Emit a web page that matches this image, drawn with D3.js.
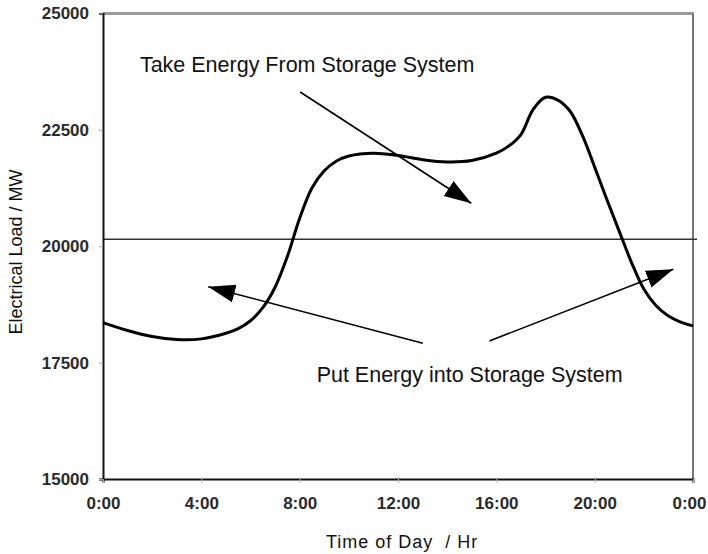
<!DOCTYPE html>
<html>
<head>
<meta charset="utf-8">
<script src="https://cdn.jsdelivr.net/npm/d3@7"></script>
<style>
  html, body { margin: 0; padding: 0; background: #fff; }
  svg { display: block; font-family: "Liberation Sans", Arial, sans-serif; }
</style>
</head>
<body>
<svg id="chart" width="708" height="554"></svg>
<script>
// ---- Data ----
const hours = [0, 1, 2, 3, 4, 5, 5.5, 6, 6.5, 7, 7.5, 8, 8.5, 9, 9.5, 10, 11, 12, 13, 14, 15, 16, 16.5, 17, 17.5, 18, 18.5, 19, 19.5, 20, 20.5, 21, 21.5, 22, 22.5, 23, 23.5, 24];
const load  = [18360, 18190, 18060, 17995, 18010, 18130, 18230, 18400, 18680, 19120, 19780, 20600, 21250, 21620, 21830, 21940, 22000, 21950, 21860, 21810, 21840, 22000, 22150, 22400, 22940, 23200, 23140, 22900, 22380, 21700, 21000, 20320, 19650, 19080, 18720, 18500, 18370, 18290];
const meanLoad = 20150;
const xTicks = [0, 4, 8, 12, 16, 20, 24];
const xTickLabels = ["0:00", "4:00", "8:00", "12:00", "16:00", "20:00", "0:00"];
const yTicks = [15000, 17500, 20000, 22500, 25000];
// annotation arrows in data units: [hour, load]
const arrowFrom = [[8.02, 23314], [13.01, 17916], [15.72, 17965]];
const arrowTo   = [[14.98, 20924], [4.28, 19132], [23.2, 19505]];
const notes = ["Take Energy From Storage System", "Put Energy into Storage System"];
const noteAt = [[1.5, 23740], [8.69, 17090]];

// ---- Layout ----
const svg = d3.select("#chart");
const x = d3.scaleLinear().domain([0, 24]).range([103, 693]);
const y = d3.scaleLinear().domain([15000, 25000]).range([479, 13.5]);

// frame top/right (grey)
svg.append("line").attr("x1", x(0)).attr("x2", x(24) + 1).attr("y1", y(25000)).attr("y2", y(25000))
  .attr("stroke", "#9a9a9a").attr("stroke-width", 3);
svg.append("line").attr("x1", x(24)).attr("x2", x(24)).attr("y1", y(25000)).attr("y2", y(15000))
  .attr("stroke", "#777").attr("stroke-width", 2);

// mean line
svg.append("line").attr("x1", x(0)).attr("x2", x(24) + 4).attr("y1", y(meanLoad)).attr("y2", y(meanLoad))
  .attr("stroke", "#333").attr("stroke-width", 1.5);

// axes
const yAxis = d3.axisLeft(y).tickValues(yTicks).tickSize(4).tickPadding(10).tickFormat(d3.format("d"));
const gy = svg.append("g").attr("transform", `translate(${x(0)},0)`).call(yAxis);
gy.select(".domain").attr("stroke", "#111").attr("stroke-width", 2);
gy.selectAll(".tick line").attr("stroke", "#aaa");
gy.selectAll(".tick text").attr("font-size", 17).attr("font-weight", "bold").attr("fill", "#2a2a2a")
  .attr("font-family", "Liberation Sans, Arial, sans-serif");

const xAxis = d3.axisBottom(x).tickValues(xTicks).tickSize(4).tickPadding(14)
  .tickFormat((d, i) => xTickLabels[i]);
const gx = svg.append("g").attr("transform", `translate(0,${y(15000)})`).call(xAxis);
gx.select(".domain").attr("stroke", "#111").attr("stroke-width", 2);
gx.selectAll(".tick line").attr("stroke", "#bbb");
gx.selectAll(".tick text").attr("font-size", 17).attr("font-weight", "bold").attr("fill", "#2a2a2a")
  .attr("font-family", "Liberation Sans, Arial, sans-serif")
  .attr("dx", (d, i) => i === xTicks.length - 1 ? -4 : 0);

// load curve
const line = d3.line().x((d, i) => x(hours[i])).y(d => y(d)).curve(d3.curveCatmullRom.alpha(0.5));
svg.append("path").datum(load).attr("d", line).attr("fill", "none")
  .attr("stroke", "#000").attr("stroke-width", 3);

// arrow marker
svg.append("defs").append("marker").attr("id", "head")
  .attr("markerUnits", "userSpaceOnUse").attr("markerWidth", 28).attr("markerHeight", 22)
  .attr("viewBox", "0 -11 28 22").attr("refX", 27).attr("refY", 0).attr("orient", "auto")
  .append("path").attr("d", "M0,-9L27,0L0,9Z").attr("fill", "#000");

svg.append("g").selectAll("line").data(arrowFrom).join("line")
  .attr("x1", d => x(d[0])).attr("y1", d => y(d[1]))
  .attr("x2", (d, i) => x(arrowTo[i][0])).attr("y2", (d, i) => y(arrowTo[i][1]))
  .attr("stroke", "#000").attr("stroke-width", 1.6).attr("marker-end", "url(#head)");

// annotation text
svg.append("g").selectAll("text").data(notes).join("text")
  .attr("x", (d, i) => x(noteAt[i][0])).attr("y", (d, i) => y(noteAt[i][1]))
  .attr("font-size", 21.5).attr("fill", "#111").text(d => d);

// axis titles
svg.append("text").attr("x", 326).attr("y", 548).attr("letter-spacing", 1)
  .attr("font-size", 18).attr("fill", "#111").attr("xml:space", "preserve").text("Time of Day  / Hr");
svg.append("text").attr("transform", "translate(22,252) rotate(-90)").attr("text-anchor", "middle")
  .attr("font-size", 18).attr("fill", "#111").text("Electrical Load / MW");
</script>
</body>
</html>
